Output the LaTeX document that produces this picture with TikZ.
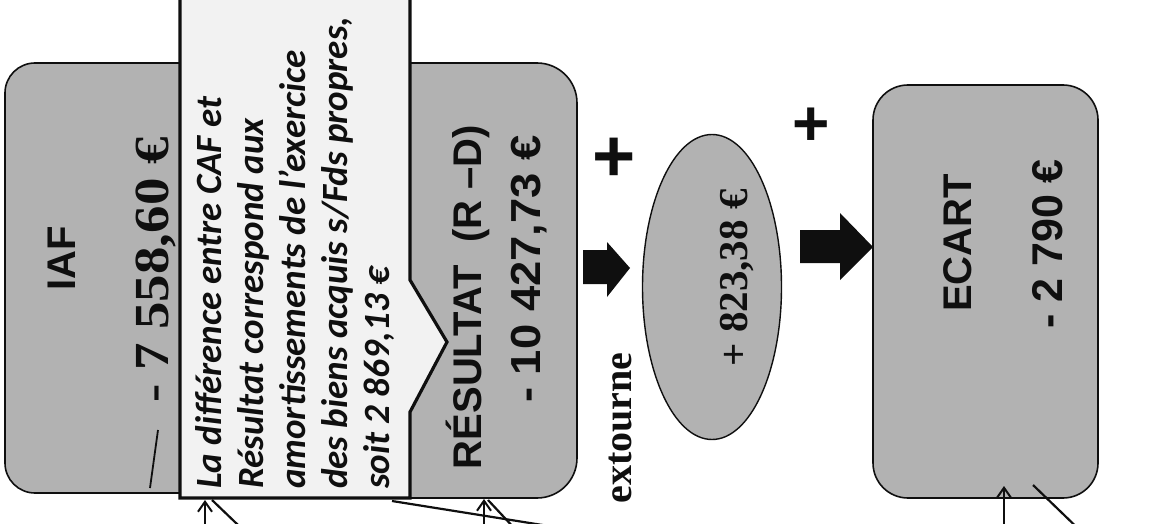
\documentclass[tikz,border=0pt]{standalone}
\usepackage{fontspec}
\setmainfont{Liberation Serif}
\setsansfont{Liberation Sans}
\newfontfamily\calibrifont{Carlito}
\usetikzlibrary{shapes.geometric, arrows.meta, positioning}
\definecolor{boxgray}{RGB}{178, 178, 178}
\definecolor{notewhite}{RGB}{242, 242, 242}
\definecolor{inkblack}{RGB}{15, 15, 15}

\begin{document}
\begin{tikzpicture}[
    x=1pt, y=-1pt,
    valbox/.style={rectangle, rounded corners=#1, fill=boxgray, draw=inkblack, line width=1.6pt, inner sep=0pt},
    valbox/.default=35pt,
    bigsans/.style={rotate=90, inner sep=0pt, text=inkblack, font=\sffamily\bfseries\fontsize{40}{48}\selectfont},
    bigserif/.style={rotate=90, inner sep=0pt, text=inkblack, font=\rmfamily\bfseries\fontsize{#1}{48}\selectfont},
    notetext/.style={rotate=90, inner sep=0pt, align=left, text=inkblack, font=\calibrifont\bfseries\itshape\fontsize{37}{42}\selectfont},
    plussign/.style={inner sep=0pt, text=inkblack, font=\sffamily\bfseries\fontsize{74}{74}\selectfont},
    blockarrow/.style={fill=inkblack},
    inarrow/.style={-{Straight Barb[length=10pt, width=14pt, line width=2pt]}, line width=2pt, inkblack},
    cutline/.style={line width=2.2pt, inkblack}
]
    \useasboundingbox (0,0) rectangle (1158,524);
    \clip (0,0) rectangle (1158,524);

    % Boxes
    \node[valbox=30pt, minimum width=295pt, minimum height=430pt] (iafbox) at (152.5,278) {};
    \node[valbox=40pt, minimum width=277pt, minimum height=435pt] (resbox) at (438.5,280.5) {};
    \node[ellipse, fill=boxgray, draw=inkblack, line width=1.4pt, minimum width=139pt, minimum height=305pt, inner sep=0pt] (extell) at (712,287) {};
    \node[valbox=35pt, minimum width=225pt, minimum height=413pt] (ecartbox) at (985.5,291.5) {};

    % Note with its pointer
    \draw[fill=notewhite, draw=inkblack, line width=3.2pt, line join=miter]
        (180,-10) -- (180,498) -- (410,498) -- (410,412) -- (447,342) -- (410,280) -- (410,-10);
    \node[notetext, anchor=north west] (note) at (195,489)
        {La différence entre CAF et\\
         Résultat correspond aux\\
         amortissements de l’exercice\\
         des biens acquis s/Fds propres,\\
         soit 2 869,13 €};

    % Labels
    \node[bigsans] (iaflabel) at (62,258) {IAF};
    \node[bigserif=49] (iafvalue) at (156,270) {\scalebox{1.12}[1]{- 7 558,60 €}};
    \draw[line width=1.8pt, inkblack] (150,488) -- (158,430);
    \node[bigsans] (reslabel) at (468,297) {RÉSULTAT\ \ (R –D)};
    \node[bigsans, font=\sffamily\bfseries\fontsize{42}{48}\selectfont] (resvalue) at (529,269) {\scalebox{1.08}[1]{- 10 427,73 €}};
    \node[bigserif=40] (extlabel) at (620,428) {extourne};
    \node[bigserif=41] (extvalue) at (737,278) {+ 823,38 €};
    \node[bigsans] (ecartlabel) at (958,243) {ECART};
    \node[bigsans, font=\sffamily\bfseries\fontsize{43}{48}\selectfont] (ecartvalue) at (1048,244) {- 2 790 €};

    % Plus signs
    \node[plussign] (plusA) at (614,160) {+};
    \node[plussign, font=\sffamily\bfseries\fontsize{64}{64}\selectfont] (plusB) at (811,127) {+};

    % Block arrows
    \fill[blockarrow] (583,250) -- (607,250) -- (607,242) -- (630,268) -- (607,297) -- (607,284) -- (583,284) -- cycle;
    \fill[blockarrow] (800,230) -- (840,230) -- (840,213) -- (873,247) -- (840,280) -- (840,263) -- (800,263) -- cycle;

    % Connectors coming in from below
    \coordinate (noteIn) at (205,500);
    \coordinate (noteSrc) at (205,560);
    \coordinate (noteOut) at (212,500);
    \coordinate (noteDst) at (262,548);
    \draw[inarrow] (noteSrc) -- (noteIn);
    \draw[cutline] (noteOut) -- (noteDst);
    \coordinate (cornerOut) at (392,501);
    \coordinate (cornerDst) at (580,531);
    \draw[cutline] (cornerOut) -- (cornerDst);
    \coordinate (resIn) at (484,499);
    \coordinate (resSrc) at (484,560);
    \coordinate (resOut) at (488,500);
    \coordinate (resDst) at (530,545);
    \draw[inarrow] (resSrc) -- (resIn);
    \draw[cutline] (resOut) -- (resDst);
    \coordinate (ecartIn) at (1004,486);
    \coordinate (ecartSrc) at (1004,560);
    \coordinate (ecartOut) at (1033,485);
    \coordinate (ecartDst) at (1090,540);
    \draw[inarrow] (ecartSrc) -- (ecartIn);
    \draw[cutline] (ecartOut) -- (ecartDst);
\end{tikzpicture}
\end{document}
